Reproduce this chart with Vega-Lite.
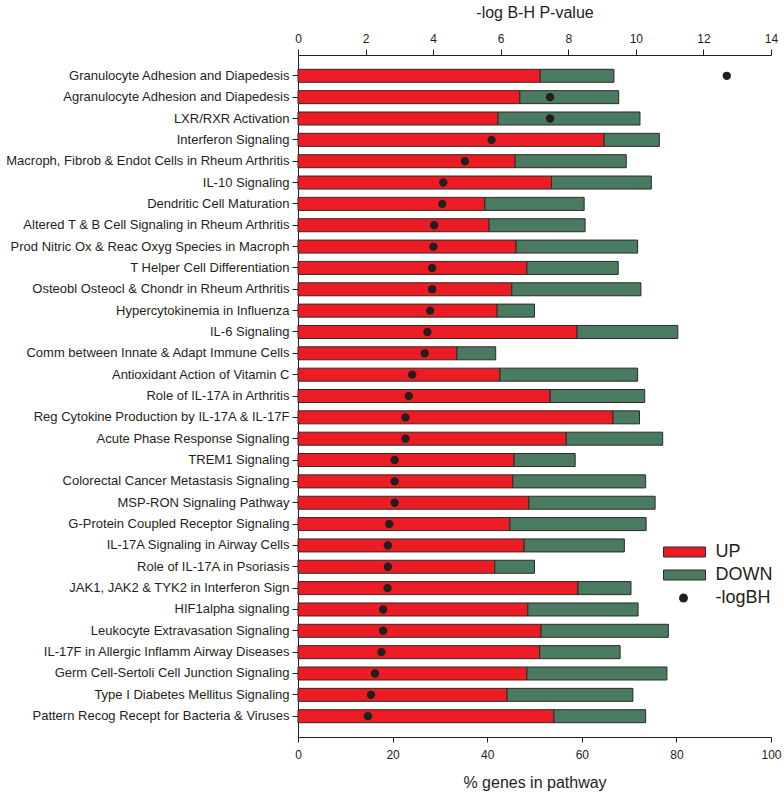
{
 "$schema": "https://vega.github.io/schema/vega-lite/v6.json",
 "width": 473,
 "height": 682,
 "padding": {"left": 5, "top": 4, "right": 5, "bottom": 5},
 "config": {
  "font": "Liberation Sans",
  "view": {"stroke": null},
  "axis": {"grid": false, "domainColor": "#231f20", "tickColor": "#231f20", "labelColor": "#231f20", "titleColor": "#231f20", "labelFontSize": 12, "titleFontSize": 16, "titleFontWeight": "normal", "tickSize": 6, "labelFlush": false},
  "legend": {"title": null, "orient": "none", "labelFontSize": 18, "labelColor": "#231f20", "symbolStrokeWidth": 1}
 },
 "data": {"values": [
  {"pathway": "Granulocyte Adhesion and Diapedesis", "UP": 51.2, "DOWN": 15.6, "logBH": 12.69},
  {"pathway": "Agranulocyte Adhesion and Diapedesis", "UP": 46.9, "DOWN": 20.9, "logBH": 7.46},
  {"pathway": "LXR/RXR Activation", "UP": 42.3, "DOWN": 30.0, "logBH": 7.46},
  {"pathway": "Interferon Signaling", "UP": 64.7, "DOWN": 11.7, "logBH": 5.73},
  {"pathway": "Macroph, Fibrob & Endot Cells in Rheum Arthritis", "UP": 45.9, "DOWN": 23.5, "logBH": 4.94},
  {"pathway": "IL-10 Signaling", "UP": 53.6, "DOWN": 21.1, "logBH": 4.30},
  {"pathway": "Dendritic Cell Maturation", "UP": 39.5, "DOWN": 21.0, "logBH": 4.27},
  {"pathway": "Altered T & B Cell Signaling in Rheum Arthritis", "UP": 40.4, "DOWN": 20.3, "logBH": 4.03},
  {"pathway": "Prod Nitric Ox & Reac Oxyg Species in Macroph", "UP": 46.1, "DOWN": 25.7, "logBH": 4.01},
  {"pathway": "T Helper Cell Differentiation", "UP": 48.4, "DOWN": 19.3, "logBH": 3.97},
  {"pathway": "Osteobl Osteocl & Chondr in Rheum Arthritis", "UP": 45.2, "DOWN": 27.3, "logBH": 3.97},
  {"pathway": "Hypercytokinemia in Influenza", "UP": 42.1, "DOWN": 7.9, "logBH": 3.91},
  {"pathway": "IL-6 Signaling", "UP": 59.0, "DOWN": 21.3, "logBH": 3.83},
  {"pathway": "Comm between Innate & Adapt Immune Cells", "UP": 33.6, "DOWN": 8.2, "logBH": 3.75},
  {"pathway": "Antioxidant Action of Vitamin C", "UP": 42.7, "DOWN": 29.1, "logBH": 3.38},
  {"pathway": "Role of IL-17A in Arthritis", "UP": 53.3, "DOWN": 20.0, "logBH": 3.28},
  {"pathway": "Reg Cytokine Production by IL-17A & IL-17F", "UP": 66.6, "DOWN": 5.6, "logBH": 3.18},
  {"pathway": "Acute Phase Response Signaling", "UP": 56.7, "DOWN": 20.4, "logBH": 3.18},
  {"pathway": "TREM1 Signaling", "UP": 45.7, "DOWN": 12.9, "logBH": 2.86},
  {"pathway": "Colorectal Cancer Metastasis Signaling", "UP": 45.4, "DOWN": 28.1, "logBH": 2.86},
  {"pathway": "MSP-RON Signaling Pathway", "UP": 48.8, "DOWN": 26.7, "logBH": 2.86},
  {"pathway": "G-Protein Coupled Receptor Signaling", "UP": 44.8, "DOWN": 28.8, "logBH": 2.70},
  {"pathway": "IL-17A Signaling in Airway Cells", "UP": 47.8, "DOWN": 21.2, "logBH": 2.66},
  {"pathway": "Role of IL-17A in Psoriasis", "UP": 41.6, "DOWN": 8.4, "logBH": 2.66},
  {"pathway": "JAK1, JAK2 & TYK2 in Interferon Sign", "UP": 59.2, "DOWN": 11.2, "logBH": 2.65},
  {"pathway": "HIF1alpha signaling", "UP": 48.6, "DOWN": 23.3, "logBH": 2.52},
  {"pathway": "Leukocyte Extravasation Signaling", "UP": 51.4, "DOWN": 26.9, "logBH": 2.52},
  {"pathway": "IL-17F in Allergic Inflamm Airway Diseases", "UP": 51.1, "DOWN": 17.0, "logBH": 2.47},
  {"pathway": "Germ Cell-Sertoli Cell Junction Signaling", "UP": 48.4, "DOWN": 29.6, "logBH": 2.28},
  {"pathway": "Type I Diabetes Mellitus Signaling", "UP": 44.2, "DOWN": 26.6, "logBH": 2.16},
  {"pathway": "Pattern Recog Recept for Bacteria & Viruses", "UP": 54.1, "DOWN": 19.4, "logBH": 2.07}
 ]},
 "layer": [
  {
   "transform": [{"fold": ["UP", "DOWN"], "as": ["dir", "pct"]}],
   "mark": {"type": "bar", "stroke": "#2b2b2b", "strokeWidth": 1},
   "encoding": {
    "y": {"field": "pathway", "type": "nominal", "sort": null, "scale": {"paddingInner": 0.39, "paddingOuter": 0.67}, "axis": {"title": null, "labelFontSize": 13, "labelLimit": 400, "labelPadding": 3}},
    "x": {"field": "pct", "type": "quantitative", "stack": "zero", "scale": {"domain": [0, 100], "nice": false}, "axis": {"orient": "bottom", "title": "% genes in pathway", "values": [0, 20, 40, 60, 80, 100], "tickSize": 5, "labelPadding": 7, "titlePadding": 14}},
    "color": {"field": "dir", "type": "nominal", "scale": {"domain": ["UP", "DOWN"], "range": ["#ED1C24", "#4A7A5F"]},
     "legend": {"legendX": 375.5, "legendY": 486, "symbolType": "M-2,-0.476H2V0.476H-2Z", "symbolSize": 441, "symbolStrokeColor": "#2b2b2b", "symbolStrokeWidth": 1, "symbolOpacity": 1, "labelOffset": 20, "rowPadding": 3}},
    "order": {"field": "dir", "sort": "descending"}
   }
  },
  {
   "transform": [{"fold": ["logBH"], "as": ["key", "val"]}],
   "mark": {"type": "point", "filled": true, "opacity": 1, "size": 70, "color": "#231F20"},
   "encoding": {
    "y": {"field": "pathway", "type": "nominal", "sort": null},
    "x": {"field": "val", "type": "quantitative", "scale": {"domain": [0, 14], "nice": false}, "axis": {"orient": "top", "title": "-log B-H P-value", "values": [0, 2, 4, 6, 8, 10, 12, 14], "labelPadding": 4, "titlePadding": 12}},
    "shape": {"field": "key", "type": "nominal", "scale": {"domain": ["logBH"], "range": ["circle"]},
     "legend": {"legendX": 376.5, "legendY": 534, "symbolSize": 80, "symbolFillColor": "#231F20", "symbolStrokeColor": "transparent", "symbolOpacity": 1, "labelOffset": 23, "labelExpr": "'-logBH'"}}
   }
  }
 ],
 "resolve": {"scale": {"x": "independent"}}
}
